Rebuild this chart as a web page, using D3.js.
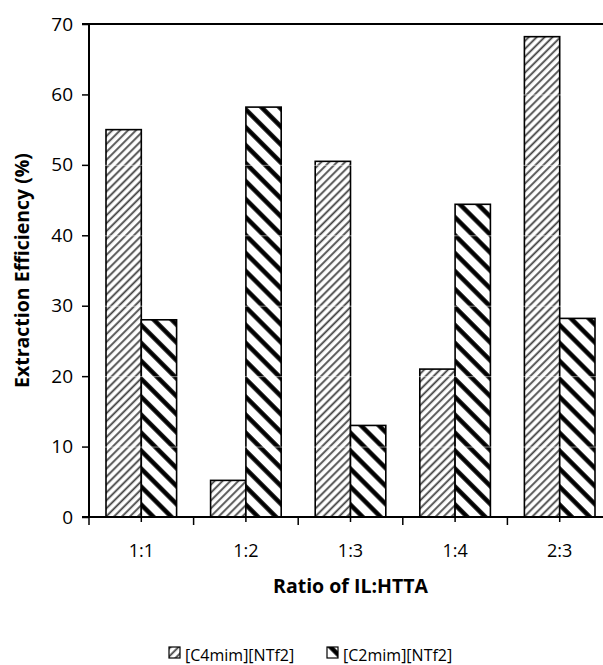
<!DOCTYPE html>
<html>
<head>
<meta charset="utf-8">
<script src="https://cdn.jsdelivr.net/npm/d3@7"></script>
<style>
  body { margin: 0; background: #fff; }
  text { font-family: "Open Sans", Lato, sans-serif; fill: #000; }
</style>
</head>
<body>
<div id="chart"></div>
<script>
// Data
var categories = ["1:1", "1:2", "1:3", "1:4", "2:3"];
var seriesNames = ["[C4mim][NTf2]", "[C2mim][NTf2]"];
var c4Values = [55.0, 5.2, 50.5, 21.0, 68.2];
var c2Values = [28.0, 58.2, 13.0, 44.4, 28.2];
var yTicks = [0, 10, 20, 30, 40, 50, 60, 70];

// Dimensions
var svgWidth = 603, svgHeight = 665;
var marginLeft = 89, marginTop = 24;
var chartWidth = 523, chartHeight = 493;

var svg = d3.select("#chart").append("svg")
  .attr("width", svgWidth)
  .attr("height", svgHeight);

// Patterns
var defs = svg.append("defs");
var p1 = defs.append("pattern")
  .attr("id", "pC4").attr("patternUnits", "userSpaceOnUse")
  .attr("width", 5.6).attr("height", 5.6)
  .attr("patternTransform", "rotate(45)");
p1.append("rect").attr("width", 5.6).attr("height", 5.6).attr("fill", "#fff");
p1.append("line").attr("x1", 1.2).attr("x2", 1.2).attr("y1", 0).attr("y2", 5.6)
  .attr("stroke", "#444").attr("stroke-width", 1.8);

var p2 = defs.append("pattern")
  .attr("id", "pC2").attr("patternUnits", "userSpaceOnUse")
  .attr("width", 12.7).attr("height", 12.7)
  .attr("patternTransform", "rotate(-45)");
p2.append("rect").attr("width", 12.7).attr("height", 12.7).attr("fill", "#fff");
p2.append("line").attr("x1", 2.5).attr("x2", 2.5).attr("y1", 0).attr("y2", 12.7)
  .attr("stroke", "#000").attr("stroke-width", 4.5);

var fills = ["url(#pC4)", "url(#pC2)"];

var chartGroup = svg.append("g")
  .attr("transform", `translate(${marginLeft}, ${marginTop})`);

// Scales
var xScale = d3.scaleBand().domain(categories).range([0, chartWidth]);
var xInner = d3.scaleBand().domain([0, 1]).range([0, 70.6]);
var yScale = d3.scaleLinear().domain([0, 70]).range([chartHeight, 0]);

// Bars
var rows = categories.map(function(c, i) { return {cat: c, vals: [c4Values[i], c2Values[i]]}; });
var groups = chartGroup.selectAll(".grp")
  .data(rows).enter().append("g")
  .attr("transform", d => `translate(${xScale(d.cat) + (xScale.bandwidth() - 70.6) / 2}, 0)`);

groups.selectAll("rect")
  .data(d => d.vals.map((v, k) => ({v: v, k: k})))
  .enter().append("rect")
  .attr("x", d => xInner(d.k))
  .attr("y", d => yScale(d.v))
  .attr("width", xInner.bandwidth())
  .attr("height", d => chartHeight - yScale(d.v))
  .attr("fill", d => fills[d.k])
  .attr("stroke", "#000")
  .attr("stroke-width", 1.6);

// faint gridlines showing through the bars
chartGroup.selectAll(".grid")
  .data(yTicks.filter(t => t > 0 && t < 70)).enter().append("line")
  .attr("x1", 0).attr("x2", chartWidth)
  .attr("y1", d => yScale(d) + 0.5).attr("y2", d => yScale(d) + 0.5)
  .attr("stroke", "#fff").attr("stroke-opacity", 0.5).attr("stroke-width", 1);

// Top border
chartGroup.append("line")
  .attr("x1", -7).attr("x2", chartWidth).attr("y1", 0).attr("y2", 0)
  .attr("stroke", "#000").attr("stroke-width", 2);

// Y axis
var yAxis = chartGroup.append("g")
  .call(d3.axisLeft(yScale).tickValues(yTicks).tickSize(7).tickPadding(9));
yAxis.select(".domain").attr("stroke-width", 2).attr("d", `M0,0V${chartHeight}`);
yAxis.selectAll(".tick line").attr("stroke-width", 1.5);
yAxis.selectAll("text").attr("font-size", 19).attr("font-family", "Open Sans");

// X axis: major ticks at boundaries, minor ticks at centres
var xAxisG = chartGroup.append("g").attr("transform", `translate(0, ${chartHeight})`);
xAxisG.append("line").attr("x1", -7).attr("x2", chartWidth)
  .attr("stroke", "#000").attr("stroke-width", 2);
var bounds = categories.map(c => xScale(c)).concat([chartWidth]);
xAxisG.selectAll(".maj").data(bounds).enter().append("line")
  .attr("x1", d => d).attr("x2", d => d).attr("y1", 0).attr("y2", 8)
  .attr("stroke", "#000").attr("stroke-width", 1.5);
xAxisG.selectAll(".min").data(categories).enter().append("line")
  .attr("x1", d => xScale(d) + xScale.bandwidth() / 2)
  .attr("x2", d => xScale(d) + xScale.bandwidth() / 2)
  .attr("y1", 0).attr("y2", 5)
  .attr("stroke", "#000").attr("stroke-width", 1.5);
xAxisG.selectAll(".lbl").data(categories).enter().append("text")
  .attr("x", d => xScale(d) + xScale.bandwidth() / 2)
  .attr("y", 40)
  .attr("text-anchor", "middle")
  .attr("font-size", 18)
  .text(d => d);

// Axis titles
svg.append("text")
  .attr("transform", `translate(29, ${marginTop + chartHeight / 2}) rotate(-90)`)
  .attr("text-anchor", "middle")
  .attr("font-size", 19.5).attr("font-weight", "bold")
  .text("Extraction Efficiency (%)");

svg.append("text")
  .attr("x", marginLeft + chartWidth / 2).attr("y", 593)
  .attr("text-anchor", "middle")
  .attr("font-size", 19.5).attr("font-weight", "bold")
  .text("Ratio of IL:HTTA");

// Legend
var legendX = [169, 327];
var legend = svg.selectAll(".leg").data(seriesNames).enter().append("g")
  .attr("transform", (d, i) => `translate(${legendX[i]}, 647)`);
legend.append("rect")
  .attr("width", 11).attr("height", 11)
  .attr("fill", (d, i) => fills[i])
  .attr("stroke", "#000").attr("stroke-width", 1.2);
legend.append("text")
  .attr("x", 16).attr("y", 14)
  .attr("font-size", 16)
  .text(d => d);
</script>
</body>
</html>
